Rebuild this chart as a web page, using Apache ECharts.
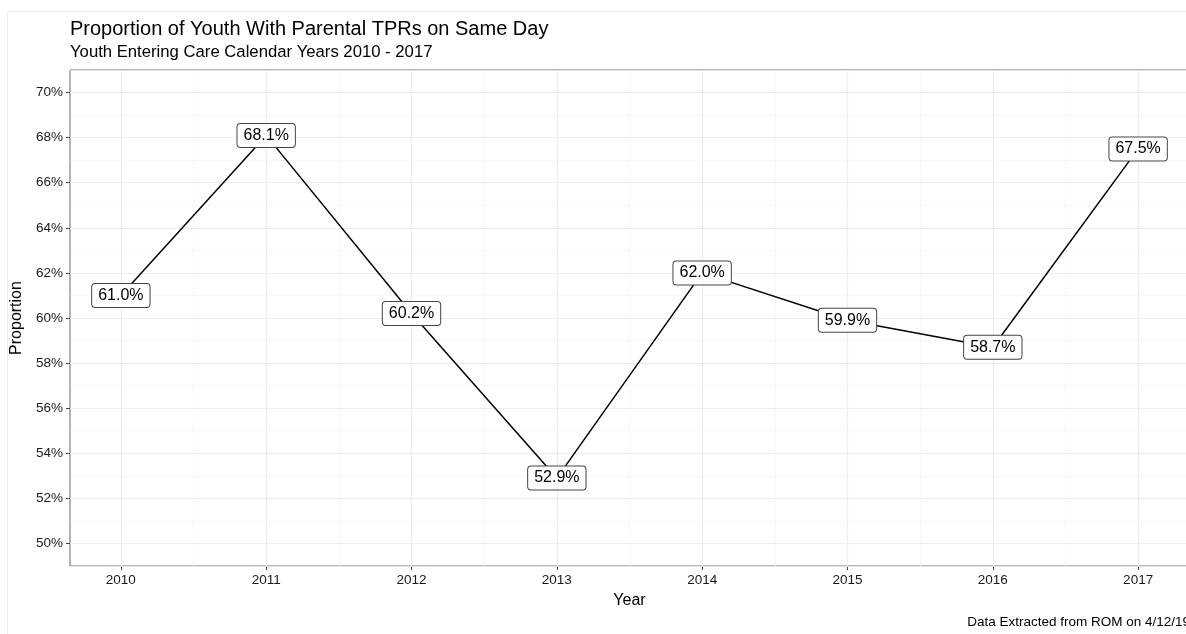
<!DOCTYPE html>
<html>
<head>
<meta charset="utf-8">
<script src="https://cdn.jsdelivr.net/npm/echarts@6/dist/echarts.min.js"></script>
<style>
  html, body { margin: 0; padding: 0; background: #fff; }
  #chart { width: 1186px; height: 634px; }
</style>
</head>
<body>
<div id="chart"></div>
<script>
// Proportion of youth with parental TPRs on the same day, by entry year
const years = [2010, 2011, 2012, 2013, 2014, 2015, 2016, 2017];
const proportions = [61.0, 68.1, 60.2, 52.9, 62.0, 59.9, 58.7, 67.5];
const yTicks = [50, 52, 54, 56, 58, 60, 62, 64, 66, 68, 70];
const yMinorTicks = [49, 51, 53, 55, 57, 59, 61, 63, 65, 67, 69, 71];
const xMinorTicks = [2010.5, 2011.5, 2012.5, 2013.5, 2014.5, 2015.5, 2016.5];

const FONT = '"Liberation Sans", Arial, Helvetica, sans-serif';
const chart = echarts.init(document.getElementById('chart'), null, { renderer: 'canvas' });

const gridLines = [
  ...yMinorTicks.map(v => ({ yAxis: v, lineStyle: { color: '#f5f5f5', width: 0.8 } })),
  ...xMinorTicks.map(v => ({ xAxis: v, lineStyle: { color: '#f5f5f5', width: 0.8 } })),
  ...yTicks.map(v => ({ yAxis: v, lineStyle: { color: '#ececec', width: 1.2 } })),
  ...years.map(v => ({ xAxis: v, lineStyle: { color: '#ececec', width: 1.2 } }))
];

chart.setOption({
  animation: false,
  textStyle: { fontFamily: FONT },
  title: {
    text: 'Proportion of Youth With Parental TPRs on Same Day',
    subtext: 'Youth Entering Care Calendar Years 2010 - 2017',
    left: 65,
    top: 14,
    itemGap: 5,
    textStyle: { fontFamily: FONT, fontSize: 20, fontWeight: 'normal', color: '#000' },
    subtextStyle: { fontFamily: FONT, fontSize: 16.7, color: '#000' }
  },
  graphic: [
    {
      type: 'rect',
      shape: { x: 7.5, y: 11.5, width: 1200, height: 700 },
      style: { fill: 'none', stroke: '#ececf6', lineWidth: 1 },
      z: 0
    },
    {
      type: 'text',
      x: 1190,
      y: 622,
      style: {
        text: 'Data Extracted from ROM on 4/12/19',
        align: 'right', verticalAlign: 'middle',
        fontFamily: FONT, fontSize: 13.5, fill: '#000'
      }
    }
  ],
  grid: {
    left: 70, top: 70, right: -3, bottom: 68,
    outerBoundsMode: 'none',
    containLabel: false,
    show: true, borderColor: '#666', borderWidth: 1, backgroundColor: 'transparent'
  },
  xAxis: {
    type: 'value',
    min: 2009.65,
    max: 2017.35,
    name: 'Year',
    nameLocation: 'middle',
    nameGap: 27,
    nameTextStyle: { fontFamily: FONT, fontSize: 16, color: '#000' },
    axisLine: { show: false },
    axisTick: { show: true, length: 4, lineStyle: { color: '#444' }, customValues: years },
    axisLabel: {
      customValues: years, formatter: v => String(v),
      fontFamily: FONT, fontSize: 13.5, color: '#1a1a1a', margin: 7
    },
    splitLine: { show: false }
  },
  yAxis: {
    type: 'value',
    min: 49,
    max: 71,
    name: 'Proportion',
    nameLocation: 'middle',
    nameGap: 43,
    nameTextStyle: { fontFamily: FONT, fontSize: 16, color: '#000' },
    axisLine: { show: false },
    axisTick: { show: true, length: 4, lineStyle: { color: '#444' }, customValues: yTicks },
    axisLabel: {
      customValues: yTicks, formatter: v => v + '%',
      fontFamily: FONT, fontSize: 13.5, color: '#1a1a1a', margin: 7
    },
    splitLine: { show: false }
  },
  series: [
    {
      type: 'line',
      zlevel: 0,
      z: 1,
      silent: true,
      data: [],
      markLine: {
        silent: true,
        symbol: 'none',
        label: { show: false },
        lineStyle: { type: 'solid' },
        data: gridLines
      }
    },
    {
      type: 'line',
      zlevel: 1,
      z: 3,
      data: years.map((y, i) => [y, proportions[i]]),
      symbol: 'circle',
      symbolSize: 1,
      itemStyle: { color: 'rgba(0,0,0,0)' },
      lineStyle: { color: '#000', width: 1.5 },
      label: {
        show: true,
        position: 'inside',
        formatter: p => p.value[1].toFixed(1) + '%',
        fontFamily: FONT,
        fontSize: 16,
        color: '#000',
        backgroundColor: '#fff',
        borderColor: '#444',
        borderWidth: 1,
        borderRadius: 3,
        padding: [4, 6, 3, 6]
      }
    }
  ]
});
</script>
</body>
</html>
